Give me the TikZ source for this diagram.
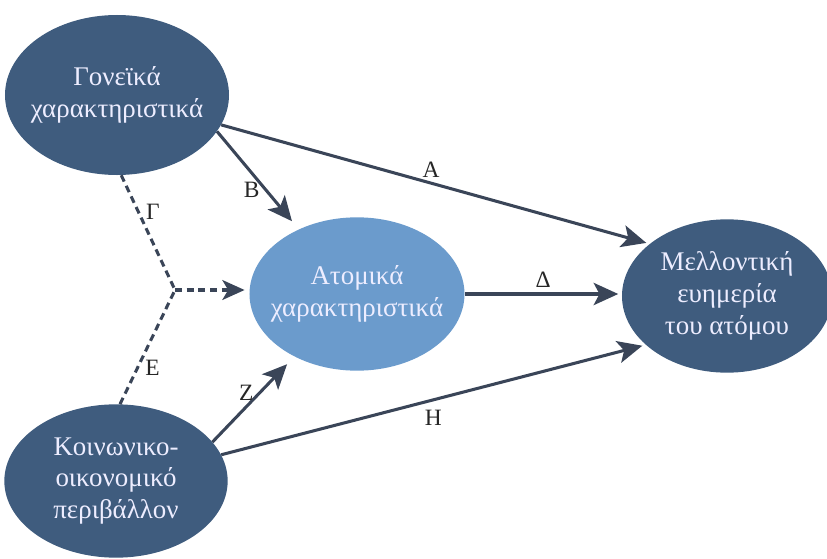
\documentclass[tikz,border=0pt]{standalone}
\usepackage{fontspec}
\setmainfont{Liberation Serif}
\usetikzlibrary{shapes.geometric,arrows.meta}
\definecolor{darkblob}{HTML}{3F5C7E}
\definecolor{lightblob}{HTML}{6B9BCC}
\definecolor{linkcol}{HTML}{3A4558}
\tikzset{
blob/.style     = {shape=ellipse, fill=darkblob, text=white!93!blue,
                   align=center, inner sep=-12pt,
                   font=\fontsize{23}{27}\selectfont},
lightnode/.style = {blob, fill=lightblob},
link/.style     = {line width=2.6pt, draw=linkcol,
                   -{Stealth[length=21pt,width=19pt,inset=5pt]}},
dlink/.style    = {line width=2.6pt, draw=linkcol,
                   dash pattern=on 6pt off 4pt},
lbl/.style      = {font=\fontsize{20}{20}\selectfont, text=black!85}
}

\begin{document}
\begin{tikzpicture}[x=0.03cm, y=-0.03cm]
\useasboundingbox (0,0) rectangle (827,559);

\node[blob, minimum width=6.72cm, minimum height=4.8cm]  (gonei)  at (117,95)
    {Γονεϊκά\\χαρακτηριστικά};
\node[lightnode, minimum width=6.45cm, minimum height=4.6cm] (atom) at (357,294)
    {Ατομικά\\χαρακτηριστικά};
\node[blob, minimum width=6.3cm, minimum height=4.6cm]  (mellon) at (727,296)
    {Μελλοντική\\ευημερία\\του ατόμου};
\node[blob, minimum width=6.7cm, minimum height=4.6cm]  (koin)   at (116,481)
    {Κοινωνικο-\\οικονομικό\\περιβάλλον};
\coordinate (j) at (175,290);

\draw[link, shorten >=3pt] (gonei.-16) -- node[lbl, pos=0.49, above=0pt] {Α} (mellon.146);
\draw[link, shorten >=9pt] (gonei.-20) -- node[lbl, pos=0.6, left=1pt] {Β} (atom.132);
\draw[link, shorten >=3pt] (atom.east) -- node[lbl, midway, above=1pt] {Δ} (atom.east -| mellon.west);
\draw[link, shorten >=9pt] (koin.22) -- node[lbl, pos=0.58, left=1pt] {Ζ} (atom.225);
\draw[link, shorten >=3pt] (koin.14) -- node[lbl, midway, below=4pt] {Η} (mellon.211);

\draw[dlink] (gonei.-87) -- node[lbl, pos=0.32, right=2pt] {Γ} (j);
\draw[dlink] (koin.87) -- node[lbl, pos=0.32, right=2pt] {Ε} (j);
\draw[dlink, -{Stealth[length=19pt,width=17pt,inset=5pt]}, shorten >=4pt] (j) -- (j -| atom.west);
\end{tikzpicture}
\end{document}
